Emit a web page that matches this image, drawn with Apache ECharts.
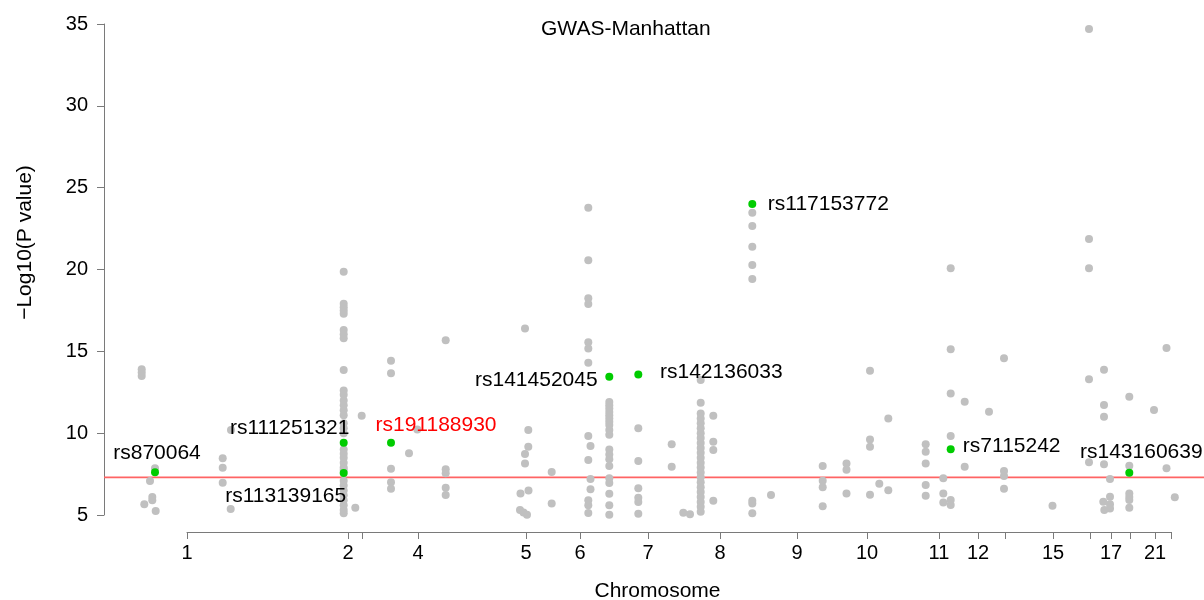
<!DOCTYPE html>
<html>
<head>
<meta charset="utf-8">
<script src="https://cdn.jsdelivr.net/npm/echarts@6/dist/echarts.min.js"></script>
<style>html,body{margin:0;padding:0;background:#fff}#c{width:1204px;height:600px}</style>
</head>
<body>
<div id="c"></div>
<script>
// ---- data (x = cumulative genomic position index, y = -log10 P) ----
const chartTitle = 'GWAS-Manhattan';
const xTitle = 'Chromosome';
const yTitle = '\u2212Log10(P value)';
const genomeWideThreshold = 7.3;

// chromosome tick positions (midpoints) and their labels ('' = unlabeled tick)
const chromTickPos = [0, 161, 175, 231, 339, 393, 461, 533, 610, 680, 752, 791, 818, 866, 903, 924, 943, 968, 984];
const chromTickLabels = ['1', '2', '', '4', '5', '6', '7', '8', '9', '10', '11', '12', '', '15', '', '17', '', '21', ''];

const yTicks = [5, 10, 15, 20, 25, 30, 35];

// background SNPs: positions and -log10 P
const snpPos = [
  // chr1
  -45.3, -45.3, -45.3, -32, -37, -34.7, -34.7, -42.7, -31.3, 44, 35.7, 35.7, 35.7, 43.7,
  // chr2 column
  156.7, 156.7, 156.7, 156.7, 156.7, 156.7, 156.7, 156.7, 156.7, 156.7, 156.7, 156.7, 156.7, 156.7, 156.7, 156.7,
  156.7, 156.7, 156.7, 156.7, 156.7, 156.7, 156.7, 156.7, 156.7, 156.7, 156.7, 156.7, 156.7, 156.7, 156.7, 156.7,
  174.7, 168.3,
  // chr3
  204, 204, 204, 204, 204, 222, 230.3,
  // chr4
  258.7, 258.7, 258.7, 258.7, 258.7,
  // chr5
  338, 341.3, 341.3, 338, 338, 333.5, 341.5, 333, 336.5, 340, 364.7, 364.7,
  // chr6 column 1
  401.3, 401.3, 401.3, 401.3, 401.3, 401.3, 401.3, 401.3, 403.5, 401.3, 403.5, 403.5, 401.3, 401.3, 401.3,
  // chr6 column 2
  422.3, 422.3, 422.3, 422.3, 422.3, 422.3, 422.3, 422.3, 422.3, 422.3, 422.3, 422.3, 422.3, 422.3, 422.3, 422.3,
  422.3, 422.3, 422.3,
  // chr7
  451.3, 451.3, 451.3, 451.3, 451.3, 451.3, 484.7, 484.7, 496.3, 503,
  // chr8 column
  513.7, 513.7, 513.7, 513.7, 513.7, 513.7, 513.7, 513.7, 513.7, 513.7, 513.7, 513.7, 513.7, 513.7, 513.7, 513.7,
  513.7, 513.7, 513.7, 513.7, 513.7, 513.7, 513.7,
  526.3, 526.3, 526.3, 526.3,
  // chr9
  565.3, 565.3, 565.3, 565.3, 565.3, 565.3, 565.3, 565.3, 584,
  // chr9/10
  635.7, 635.7, 635.7, 635.7, 659.5, 659.5, 659.5, 683, 683, 683, 683, 692.3, 701.3, 701.3,
  // chr11/12/13/15
  738.7, 738.7, 738.7, 738.7, 738.7, 756.3, 756.3, 756.3,
  763.7, 763.7, 763.7, 763.7, 763.7, 763.7, 777.7, 777.7, 802, 817, 817, 817, 817, 865.5,
  // chr16-22
  902, 902, 902, 902, 902, 917, 917, 917, 917, 923, 923, 916.3, 923, 917.3, 923,
  942.3, 942.3, 942.3, 942.3, 942.3, 942.3, 967, 979.5, 979.5, 987.8
];
const snpLogP = [
  // chr1
  13.9, 13.7, 13.5, 7.85, 7.08, 6.1, 5.9, 5.65, 5.24, 10.19, 8.46, 7.89, 6.97, 5.37,
  // chr2 column
  19.87, 17.9, 17.7, 17.5, 17.3, 16.3, 16.05, 15.8, 13.86, 12.6, 12.35, 12.0, 11.7, 11.4, 11.1, 10.6,
  10.3, 10.0, 9.0, 8.75, 8.5, 8.2, 7.9, 7.75, 7.1, 6.8, 6.5, 6.2, 5.9, 5.6, 5.3, 5.1,
  11.07, 5.45,
  // chr3
  14.43, 13.66, 7.83, 7.0, 6.6, 8.77, 10.23,
  // chr4
  15.68, 7.8, 7.55, 6.66, 6.22,
  // chr5
  16.4, 10.2, 9.17, 8.73, 8.15, 6.32, 6.49, 5.3, 5.15, 5.02, 7.63, 5.71,
  // chr6 column 1
  23.78, 20.56, 18.24, 17.89, 15.55, 15.18, 14.31, 9.83, 9.22, 8.36, 7.2, 6.57, 5.9, 5.6, 5.12,
  // chr6 column 2
  11.9, 11.7, 11.5, 11.3, 11.1, 10.9, 10.7, 10.5, 10.2, 9.9, 9.0, 8.7, 8.4, 8.0, 7.25, 6.95,
  6.3, 5.6, 5.02,
  // chr7
  10.3, 8.3, 6.63, 6.05, 5.8, 5.08, 9.32, 7.95, 5.14, 5.05,
  // chr8 column
  13.25, 11.86, 11.2, 10.9, 10.6, 10.3, 10.0, 9.7, 9.4, 9.1, 8.8, 8.5, 8.2, 7.9, 7.6, 7.3,
  7.0, 6.7, 6.4, 6.1, 5.8, 5.5, 5.2,
  11.07, 9.48, 8.97, 5.87,
  // chr9
  23.47, 22.66, 21.39, 20.27, 19.42, 5.87, 5.71, 5.1, 6.22,
  // chr9/10
  7.99, 7.1, 6.69, 5.53, 8.15, 7.77, 6.32, 13.82, 9.62, 9.17, 6.24, 6.91, 10.9, 6.51,
  // chr11/12/13/15
  9.32, 8.87, 8.15, 6.83, 6.18, 7.24, 6.32, 5.77,
  20.07, 15.12, 12.43, 9.83, 5.92, 5.61, 11.92, 7.95, 11.31, 14.57, 7.69, 7.38, 6.61, 5.56,
  // chr16-22
  34.69, 21.86, 20.07, 13.29, 8.22, 13.88, 11.72, 11.0, 8.1, 7.2, 6.12, 5.81, 5.65, 5.3, 5.4,
  12.23, 8.01, 6.32, 6.1, 5.92, 5.45, 11.41, 15.2, 7.85, 6.08
];

// highlighted lead SNPs
const leadNames = ['rs870064', 'rs111251321', 'rs113139165', 'rs191188930', 'rs141452045',
                   'rs142136033', 'rs117153772', 'rs7115242', 'rs143160639'];
const leadPos = [-32, 156.7, 156.7, 204, 422.3, 451.3, 565.3, 763.7, 942.3];
const leadLogP = [7.61, 9.42, 7.56, 9.42, 13.45, 13.58, 24.0, 9.01, 7.58];
const leadLabelColors = ['#000', '#000', '#000', '#ff0000', '#000', '#000', '#000', '#000', '#000'];

// label placement (style only): offset of label centre from its point, in px
const leadLabelOffsets = [[2, -19], [-54, -14], [-58, 23], [45, -17], [-73, 4], [83, -2], [76, 0], [61, -3], [12, -21]];

// ---- chart ----
const FONT = '"Liberation Sans", Arial, Helvetica, sans-serif';
const AXIS_COLOR = '#7a7a7a';

const grayData = snpPos.map((p, i) => [p, snpLogP[i]]);
const leadData = leadNames.map((n, i) => ({
  name: n,
  value: [leadPos[i], leadLogP[i]],
  label: {
    show: true, formatter: n, position: 'inside', offset: leadLabelOffsets[i],
    color: leadLabelColors[i], fontSize: 21, fontFamily: FONT, align: 'center', verticalAlign: 'middle',
    textBorderWidth: 0, opacity: 1
  }
}));

const labelMap = {};
chromTickPos.forEach((p, i) => { labelMap[p] = chromTickLabels[i]; });
const labeledPos = chromTickPos.filter((p, i) => chromTickLabels[i] !== '');

// the full-width panel axis runs 0..1; the threshold line spans it
const panelMin = 0, panelMax = 1;
const thresholdData = [[panelMin, genomeWideThreshold], [panelMax, genomeWideThreshold]];

const chart = echarts.init(document.getElementById('c'), null, { renderer: 'canvas' });
chart.setOption({
  animation: false,
  backgroundColor: '#fff',
  title: {
    text: chartTitle, left: 536, top: 14,
    textStyle: { fontSize: 21, fontWeight: 'normal', color: '#000', fontFamily: FONT }
  },
  grid: [
    { left: 104, right: -7, top: 24, bottom: 85, outerBoundsMode: 'none', containLabel: false },
    { left: 187, right: 33, top: 24, bottom: 85, outerBoundsMode: 'none', containLabel: false }
  ],
  xAxis: [
    {
      gridIndex: 0, type: 'value', min: panelMin, max: panelMax, offset: 17,
      axisLine: { show: false }, axisTick: { show: false }, axisLabel: { show: false }, splitLine: { show: false },
      name: xTitle, nameLocation: 'middle', nameGap: 49,
      nameTextStyle: { fontSize: 21, color: '#000', fontFamily: FONT }
    },
    {
      gridIndex: 1, type: 'value', min: chromTickPos[0], max: chromTickPos[chromTickPos.length - 1], offset: 17,
      axisLine: { show: true, lineStyle: { color: AXIS_COLOR, width: 1 } },
      axisTick: { show: true, length: 7, customValues: chromTickPos, lineStyle: { color: AXIS_COLOR, width: 1 } },
      axisLabel: {
        show: true, customValues: labeledPos, formatter: v => labelMap[v] || '',
        fontSize: 20, color: '#000', fontFamily: FONT, margin: 11
      },
      splitLine: { show: false }
    }
  ],
  yAxis: [
    {
      gridIndex: 0, type: 'value', min: yTicks[0], max: yTicks[yTicks.length - 1], interval: 5,
      axisLine: { show: true, lineStyle: { color: AXIS_COLOR, width: 1 } },
      axisTick: { show: true, length: 7, lineStyle: { color: AXIS_COLOR, width: 1 } },
      axisLabel: { fontSize: 20, color: '#000', fontFamily: FONT, margin: 16 },
      splitLine: { show: false },
      name: yTitle, nameLocation: 'middle', nameGap: 68, nameRotate: 90,
      nameTextStyle: { fontSize: 21, color: '#000', fontFamily: FONT, padding: [0, 0, 0, 54] }
    },
    {
      gridIndex: 1, type: 'value', min: yTicks[0], max: yTicks[yTicks.length - 1], show: false
    }
  ],
  series: [
    {
      type: 'line', xAxisIndex: 0, yAxisIndex: 0, data: thresholdData, silent: true,
      symbol: 'none', clip: false, z: 1,
      lineStyle: { color: '#ff6464', width: 1.6, type: 'solid' },
      itemStyle: { color: '#ff6464' }
    },
    {
      type: 'scatter', xAxisIndex: 1, yAxisIndex: 1, data: grayData, clip: false, silent: true,
      symbol: 'circle', symbolSize: 8, itemStyle: { color: '#c0c0c0', opacity: 1 }, z: 2
    },
    {
      type: 'scatter', xAxisIndex: 1, yAxisIndex: 1, data: leadData, clip: false, silent: true,
      symbol: 'circle', symbolSize: 8, itemStyle: { color: '#00cc00', opacity: 1 }, z: 5
    }
  ]
});
</script>
</body>
</html>
